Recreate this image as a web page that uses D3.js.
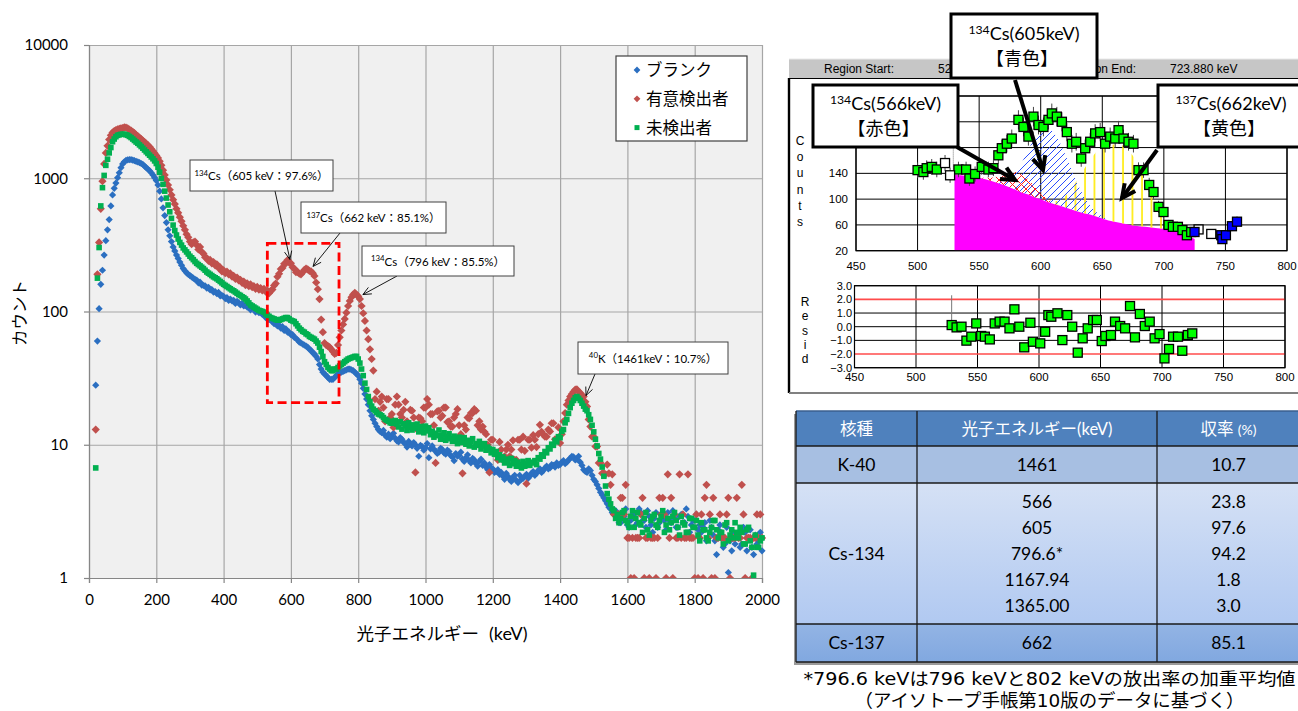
<!DOCTYPE html>
<html>
<head>
<meta charset="utf-8">
<script src="https://cdn.jsdelivr.net/npm/d3@7"></script>
<style>
  body { margin: 0; background: #fff; }
  svg { display: block; }
  text { font-family: Lato, "Noto Sans CJK JP", sans-serif; }
  .ms { font-family: "Liberation Sans", Arial, sans-serif; }
  .note { font-family: "DejaVu Sans", "Noto Sans CJK JP", sans-serif; }
</style>
</head>
<body>
<svg id="fig" width="1298" height="711"></svg>
<script>
// ---------------- spectrum data (mean counts per 5 keV channel group) ----------------
const energyStart = 20;   // keV of the first channel group
const energyStep = 5;     // keV per channel group

const blankCounts = [
  28, 60, 105, 160, 204, 265, 340, 410, 490, 620, 750, 840, 920, 1010, 1100, 1200, 1280, 1330, 1360, 1375,
  1380, 1378, 1370, 1355, 1340, 1325, 1310, 1290, 1270, 1235, 1200, 1170, 1140, 1100, 1060, 1010, 960, 890, 800, 700,
  600, 525, 465, 410, 370, 335, 305, 285, 265, 250, 235, 222, 210, 202, 195, 190, 186, 182, 178, 174,
  172, 164, 166, 158, 157, 156, 150, 152, 145, 146, 140, 141, 136, 139, 131, 132, 130, 125, 127, 121,
  124, 120, 121, 115, 119, 116, 112, 115, 110, 111, 108, 109, 103, 106, 104, 99, 103, 98, 99, 95,
  97, 90, 93, 87, 86, 84, 81, 83, 78, 79, 75, 77, 72, 74, 70, 70, 67, 67, 64, 63,
  61, 59, 58, 57, 56, 55, 54, 52, 51, 49, 48, 46, 44, 40, 37, 35, 34, 33, 32, 31,
  31, 31, 32, 33, 34, 34.5, 35, 35.5, 36, 36.5, 37, 37, 36.5, 36, 35, 34, 33, 31, 29, 26.5,
  24, 22, 20, 18, 16.5, 15.5, 14.5, 13.7, 13, 12.6, 12.3, 12.8, 11.8, 11.4, 12, 11.1, 11.5, 12.2, 11.2, 10.7,
  10.5, 11.3, 11, 10.4, 10.2, 9.6, 10.6, 10.1, 9.8, 10.4, 10, 9.4, 8.2, 9.9, 9.7, 9.1, 9.5, 10.2, 8, 9.3,
  9.8, 9.2, 9, 8.6, 8.8, 9.4, 9.2, 8.7, 8.5, 9.1, 8.9, 8.3, 8.1, 7.6, 8.6, 8.2, 8.3, 8.8, 7.8, 7.5,
  8, 8.4, 7.6, 7.3, 7.9, 7.7, 7.2, 6.9, 7.5, 7.8, 7, 7.3, 6.8, 6.5, 7.1, 6.7, 6.6, 6.2, 6.3, 6.5,
  6, 6.2, 5.8, 5.5, 6.1, 5.8, 5.5, 5.3, 5.7, 5.9, 5.4, 5.2, 5.9, 5.5, 5.6, 5.8, 6, 5.6, 5.8, 6.1,
  6.3, 5.9, 6.1, 6.4, 6.6, 6.2, 6.4, 6.7, 6.9, 6.6, 6.7, 7.1, 7, 6.8, 7.3, 7, 7.1, 7.4, 7.6, 7.2,
  7.4, 7.7, 7.9, 8.2, 8.1, 7.7, 7.8, 8.2, 7.4, 7, 6.5, 6.3, 6.2, 6.6, 6.4, 5.9, 5.5, 5.3, 5, 4.7,
  4.4, 4.2, 4, 3.8, 3.6, 3.4, 3.3, 3.1, 3, 3.2, 2.8, 2.6, 2.6, 2.9, 2.9, 3.3, 2.5, 2.4, 2.7, 3.0,
  2.9, 2.5, 2.6, 3.3, 3.1, 2.7, 2.7, 2.4, 3.2, 2.9, 2.5, 2.2, 2.8, 3.1, 2.4, 2.6, 3, 2.8, 2.7, 2.3,
  3.1, 2.7, 2.6, 3.2, 2.8, 2.4, 2.4, 2.9, 3, 2.6, 2.6, 3.3, 2.9, 2.2, 2.5, 2.7, 2.7, 3, 2.3, 2.5,
  2.2, 2.4, 2.6, 1.9, 2.0, 2.7, 2.4, 2.1, 1.9, 1.5, 2.3, 2.5, 2.1, 1.7, 1.8, 2.4, 1.1, 1.9, 1.6, 2.2,
  1.8, 2.1, 2.0, 1.7, 1.8, 2.4, 2.2, 1.6, 2.0, 2.3, 1.7, 1.5, 2.1, 1.8, 1.9, 2.2, 1.6
];

const positiveCounts = [
  13, 190, 330, 590, 950, 1280, 1550, 1750, 1950, 2100, 2200, 2260, 2300, 2330, 2350, 2370, 2380, 2410, 2400, 2370,
  2320, 2280, 2230, 2180, 2120, 2070, 2020, 1970, 1920, 1870, 1820, 1770, 1720, 1660, 1600, 1540, 1480, 1420, 1340, 1250,
  1150, 1060, 970, 890, 820, 750, 690, 640, 590, 550, 510, 475, 440, 410, 380, 360, 335, 320, 330, 335,
  315, 292, 305, 280, 272, 255, 252, 240, 244, 230, 235, 222, 226, 212, 214, 200, 204, 194, 199, 190,
  193, 183, 185, 176, 180, 171, 173, 164, 168, 158, 163, 155, 160, 152, 155, 148, 153, 146, 150, 144,
  148, 141, 144, 137, 143, 146, 157, 162, 182, 192, 208, 212, 228, 230, 243, 233, 230, 215, 210, 197,
  198, 192, 190, 197, 205, 210, 207, 202, 200, 194, 185, 165, 147, 124, 87, 70, 58, 56, 55, 54,
  52, 50, 48, 49, 56, 64, 72, 80, 88, 98, 110, 120, 128, 134, 138, 134, 130, 124, 110, 97,
  85, 72, 62, 52, 44, 36, 22, 25, 18, 21, 23, 19, 15, 22, 22, 16, 17, 13.5, 20, 23,
  20, 17, 16, 18.3, 21, 15, 14, 18.3, 18, 16, 6.2, 13, 16, 15.8, 15, 19, 19, 22, 20, 17,
  17, 14, 7.3, 17.8, 18, 16, 16.5, 19, 19, 14.8, 15, 13.7, 13.7, 16, 17, 18.5, 14, 12, 6.1, 14,
  13, 16, 15.8, 17.3, 17.3, 18.5, 18, 14, 15, 13, 13.7, 12.5, 12, 10, 6.2, 10.9, 10.9, 8.6, 8.6, 7.7,
  10.5, 9.2, 7.7, 8.2, 9.2, 10, 8.2, 9.2, 10.8, 7.7, 7.7, 10.9, 10.9, 9.2, 11.5, 9, 5.1, 10.9, 10.9, 9.5,
  11.8, 10.9, 9.6, 12, 14.1, 12.5, 12, 11.5, 11.5, 13, 12.6, 14.5, 14.5, 11, 11, 13.5, 10.3, 12, 15, 17.3,
  20, 21.5, 23, 24, 25, 25.9, 26, 25, 24.5, 23, 23, 21, 19.4, 15.5, 13.7, 11.5, 11.5, 9.7, 9.7, 7.3,
  7.3, 6.1, 6.1, 6, 7.1, 6.1, 5, 6, 3, 3, 3, 3, 4, 4, 3, 5, 2, 2, 1, 2,
  1, 2, 2, 2, 3, 4, 1, 2, 2, 1, 2, 2, 2, 1, 2, 4, 3, 4, 3, 1,
  6, 2, 4, 1, 3, 2, 2, 6, 2, 3, 2, 2, 6, 2, 2, 2, 1, 3, 1, 2,
  3, 1, 4, 5, 2, 3, 1, 4, 1, 2, 2, 3, 2, 2, 2, 3, 4, 1, 2, 2,
  2, 4, 2, 2, 5, 3, 1, 2, 2, 2, 1, 2, 2, 3, 2, 3, 2
];

const undetectedCounts = [
  6.7, 178, 302, 620, 850, 1050, 1250, 1390, 1550, 1700, 1880, 1970, 2050, 2100, 2120, 2135, 2140, 2140, 2120, 2100,
  2060, 2020, 1970, 1920, 1870, 1830, 1780, 1730, 1680, 1630, 1580, 1535, 1490, 1445, 1400, 1350, 1290, 1210, 1110, 1000,
  900, 800, 710, 630, 560, 500, 445, 405, 375, 350, 330, 315, 300, 290, 280, 270, 260, 253, 245, 237,
  230, 225, 220, 215, 210, 204, 198, 194, 190, 186, 182, 179, 176, 172, 168, 164, 160, 157, 154, 151,
  148, 145, 143, 140, 137, 134, 132, 129, 127, 124, 120, 116, 112, 110, 108, 106, 104, 102, 101, 100,
  99, 96, 94, 92, 90, 89, 88, 87, 86, 86, 87, 88, 89, 90, 90, 88, 86, 85, 84, 81,
  78, 75, 73, 71, 70, 68, 67, 65, 64, 63, 62, 60, 58, 54, 50, 46, 42, 40, 38, 37,
  36, 36, 37, 37, 38, 39, 40, 41, 42, 43, 44, 44.5, 45, 45.5, 46, 46, 44, 41, 37, 33,
  29, 26, 23, 21, 19.5, 18.5, 18, 17.5, 17, 16.8, 16.5, 16, 15.5, 15.3, 15, 14.6, 14.5, 15, 15.2, 14.3,
  13.6, 14.9, 13.1, 14.4, 13.9, 12.8, 14.6, 13.5, 12.9, 14.1, 13.3, 14.3, 12.5, 13.7, 13.1, 12.3, 13.8, 12.7, 13.4, 11.9,
  12.6, 11.4, 12.2, 11.7, 12.9, 11, 11.8, 12.3, 10.8, 11.5, 12.1, 11.1, 10.6, 11.6, 11.2, 10.2, 11.4, 10.9, 10.4, 11.3,
  10.1, 10.8, 9.8, 10.5, 11.1, 9.6, 10.2, 9.9, 10.6, 9.3, 9.8, 10.2, 9.1, 9.6, 9.3, 8.7, 9.2, 8.5, 8.9, 8,
  8.4, 7.7, 8.1, 7.3, 7.8, 7.5, 7, 7.9, 7.2, 7.6, 6.9, 7.4, 7.1, 6.7, 7.5, 6.9, 7.2, 7.6, 7, 7.4,
  7.3, 7.6, 7.1, 8, 7.8, 8.4, 8.2, 8.9, 8.7, 9.5, 9.3, 10.1, 9.9, 10.8, 10.5, 11.5, 11.3, 12.6, 13, 14.6,
  15.5, 17.2, 19, 20.5, 21.5, 22.5, 23, 22.3, 21.5, 20.5, 19.5, 18.5, 18, 16.8, 15.5, 14, 12.5, 11, 9.8, 8.6,
  7.8, 6.8, 5.8, 4.9, 4.3, 3.9, 3.6, 3.3, 3.2, 2.8, 3, 2.6, 2.8, 3.1, 3.2, 2.7, 2.6, 2.4, 2.9, 3.2,
  2.4, 2.8, 3.1, 2.6, 2.5, 2.2, 2.8, 3.1, 2.3, 2.1, 2.7, 2.9, 3, 2.5, 2.4, 2.7, 2.9, 3.2, 2.2, 2.5,
  2.8, 2.3, 2.6, 2.9, 3.1, 2.7, 2.4, 2.1, 2.9, 2.6, 2.5, 2.2, 2.2, 2.8, 2.8, 2.4, 2.4, 2.7, 2.1, 1.9,
  2.6, 2.3, 2.3, 2.0, 1.9, 2.2, 2.4, 2.7, 2.7, 2.3, 2.0, 2.2, 2.2, 1.8, 2.5, 2.6, 1.9, 2.1, 2.3, 2.0,
  2.6, 2.2, 2.0, 2.4, 2.2, 1.8, 1.8, 2.3, 2.4, 1.9, 1.7, 1.05, 2.1, 1.7, 1.7, 1.9, 2.0
];

const seriesNames = ["ブランク", "有意検出者", "未検出者"];
const energyTicks = [0, 200, 400, 600, 800, 1000, 1200, 1400, 1600, 1800, 2000];
const countTicks = [1, 10, 100, 1000, 10000];

// peak labels: isotope mass number, rest of label, arrow tip (keV, counts)
const peakIso = ["134", "137", "134", "40"];
const peakText = ["Cs（605 keV：97.6%）", "Cs（662 keV：85.1%）", "Cs（796 keV：85.5%）", "K（1461keV：10.7%）"];
const peakTipEnergy = [597, 666, 814, 1477];
const peakTipCounts = [246, 218, 134, 23.4];

// region of interest highlighted on the spectrum (keV, counts)
const roiEnergy = [530, 743];
const roiCounts = [20.7, 325];

// ---------------- peak-fit data (region 529–724 keV) ----------------
const fitEnergy = [500, 504.7, 507.4, 511.5, 515.6, 533.2, 539.4, 542.1, 546.7, 552.1,
  557.5, 561.6, 565.6, 568.4, 572.5, 576.5, 581.9, 586, 590, 594.1,
  598.2, 602.2, 606.3, 609, 613.1, 617.2, 621.2, 625.3, 628.8, 632.9,
  636.1, 640.2, 644.2, 648.3, 652.3, 656.4, 660.5, 663.2, 667.2, 671.3,
  675.3, 679.4, 683.5, 688.1, 691.6, 695.7, 699.7, 703.8, 707.3, 711.4,
  715.1, 718.7, 722.2];
const fitCounts = [145, 142, 148, 150, 146, 146, 146, 132, 139, 150,
  146, 148, 168, 179, 186, 194, 223, 212, 197, 228,
  215, 212, 223, 233, 228, 220, 204, 186, 189, 163,
  179, 189, 202, 204, 186, 197, 194, 207, 194, 189,
  186, 145, 145, 122, 111, 88, 80, 60, 57, 57,
  52, 44, 49];
const excludedEnergy = [522.3, 526.4, 728.2, 738.5];
const excludedCounts = [156, 137, 53, 46];
const outsideEnergy = [724.9, 746.6, 747.5, 750.4, 755.3, 759.4];
const outsideCounts = [49, 44, 38, 44, 58, 65];

// model components on a 5 keV grid from 530 keV
const gridStart = 530, gridStep = 5;
const continuumCounts = [138, 137, 136, 135, 133, 131, 128, 125, 122, 118,
  114, 110, 107, 103, 100, 96, 93, 90, 87, 84,
  81, 78, 76, 73, 70, 67, 65, 63, 61, 59,
  58, 57, 56, 55, 54, 53, 50, 47, 43, 38];
const peak566 = [0, 0, 0, 0, 0, 2, 5, 10, 17, 24,
  28, 28, 24, 17, 10, 5, 2, 0, 0, 0,
  0, 0, 0, 0, 0, 0, 0, 0, 0, 0,
  0, 0, 0, 0, 0, 0, 0, 0, 0, 0];
const peak605 = [0, 0, 0, 0, 0, 0, 0, 0, 6, 14,
  28, 48, 70, 92, 108, 115, 112, 100, 82, 62,
  42, 26, 14, 7, 3, 0, 0, 0, 0, 0,
  0, 0, 0, 0, 0, 0, 0, 0, 0, 0];
const peak662 = [0, 0, 0, 0, 0, 0, 0, 0, 0, 0,
  0, 0, 0, 0, 0, 0, 3, 8, 18, 32,
  50, 68, 85, 100, 110, 116, 120, 122, 118, 108,
  95, 78, 58, 38, 22, 10, 4, 0, 0, 0];

const residEnergy = [529, 533, 537, 541, 545, 549, 553, 556, 560, 564,
  568, 572, 576, 580, 584, 588, 593, 595, 601, 605,
  607.6, 610, 615, 619, 623, 627, 631.5, 635.5, 639.6, 644,
  647, 651, 654, 658.5, 661.8, 666, 670, 674, 678, 682,
  686, 690, 694, 698, 702, 705.7, 709, 713, 716.5, 721, 724.6];
const residValues = [0.12, -0.05, 0.0, -1.02, -0.73, 0.24, -0.68, -0.73, -0.93, 0.24,
  0.37, 0.37, -0.12, 1.27, 0.0, -1.51, 0.29, -1.1, -1.22, -0.37,
  0.85, 0.73, 0.98, -0.98, 0.85, 0.0, -1.9, -0.85, -0.12, 0.49,
  0.49, -1.05, -0.68, -0.61, 0.37, 0.05, -0.12, 1.51, -0.78, 0.93,
  0.05, 0.37, -0.85, -0.54, -2.32, -1.63, -0.73, -0.73, -1.76, -0.61, -0.49];

const fitXTicks = [450, 500, 550, 600, 650, 700, 750, 800];
const fitYGrid = [20, 60, 100, 140, 180, 220, 260];
const fitYLabels = [20, 60, 100, 140];
const residTicks = [-3, -2, -1, 0, 1, 2, 3];

// ---------------- nuclide table ----------------
const tableHeader = ["核種", "光子エネルギー", "収率 "];
const nuclides = ["K-40", "Cs-134", "Cs-137"];
const lineEnergies = [["1461"], ["566", "605", "796.6*", "1167.94", "1365.00"], ["662"]];
const lineYields = [["10.7"], ["23.8", "97.6", "94.2", "1.8", "3.0"], ["85.1"]];
const footnote = ["*796.6 keVは796 keVと802 keVの放出率の加重平均値", "（アイソトープ手帳第10版のデータに基づく）"];

// =====================================================================
const svg = d3.select("#fig");
const defs = svg.append("defs");

// ---------- arrow helper ----------
function arrow(g, x1, y1, x2, y2, width, head, ang) {
  g.append("line").attr("x1", x1).attr("y1", y1).attr("x2", x2).attr("y2", y2)
    .attr("stroke", "#000").attr("stroke-width", width);
  const a = Math.atan2(y2 - y1, x2 - x1);
  const p = d3.path();
  p.moveTo(x2 - head * Math.cos(a - ang), y2 - head * Math.sin(a - ang));
  p.lineTo(x2, y2);
  p.lineTo(x2 - head * Math.cos(a + ang), y2 - head * Math.sin(a + ang));
  g.append("path").attr("d", p.toString()).attr("fill", "none")
    .attr("stroke", "#000").attr("stroke-width", width).attr("stroke-linejoin", "miter");
}
// text with a leading superscript mass number
function isoText(g, x, y, iso, rest, size, anchor) {
  const t = g.append("text").attr("x", x).attr("y", y).attr("font-size", size)
    .attr("text-anchor", anchor || "middle").attr("fill", "#000");
  t.append("tspan").attr("font-size", size * 0.68).attr("dy", -size * 0.36).text(iso);
  t.append("tspan").attr("dy", size * 0.36).text(rest);
  return t;
}

// ================= main spectrum =================
const M = { left: 89, right: 762, top: 45, bottom: 578 };
const x = d3.scaleLinear().domain([0, 2000]).range([M.left, M.right]);
const y = d3.scaleLog().domain([1, 10000]).range([M.bottom, M.top]);
const main = svg.append("g");

main.append("rect").attr("x", M.left).attr("y", M.top)
  .attr("width", M.right - M.left).attr("height", M.bottom - M.top).attr("fill", "#f0f0f0");

const gridX = main.append("g").attr("transform", `translate(0,${M.bottom})`)
  .call(d3.axisBottom(x).tickValues(energyTicks).tickSize(-(M.bottom - M.top)).tickFormat(""));
gridX.select(".domain").remove();
gridX.selectAll("line").attr("stroke", "#a6a6a6").attr("stroke-width", 1.2);
const gridY = main.append("g").attr("transform", `translate(${M.left},0)`)
  .call(d3.axisLeft(y).tickValues(countTicks).tickSize(-(M.right - M.left)).tickFormat(""));
gridY.select(".domain").remove();
gridY.selectAll("line").attr("stroke", "#a6a6a6").attr("stroke-width", 1.2);

const axL = main.append("g").attr("transform", `translate(${M.left},0)`)
  .call(d3.axisLeft(y).tickValues(countTicks).tickSize(5).tickPadding(16).tickFormat(d3.format("d")));
const axB = main.append("g").attr("transform", `translate(0,${M.bottom})`)
  .call(d3.axisBottom(x).tickValues(energyTicks).tickSize(5).tickPadding(11).tickFormat(d3.format("d")));
[axL, axB].forEach(a => {
  a.select(".domain").attr("stroke", "#868686").attr("stroke-width", 1.2);
  a.selectAll(".tick line").attr("stroke", "#868686").attr("stroke-width", 1.2);
  a.selectAll("text").attr("font-size", 15).attr("fill", "#000")
    .attr("font-family", "Lato, sans-serif");
});

main.append("text").attr("transform", "translate(26,313) rotate(-90)")
  .attr("text-anchor", "middle").attr("font-size", 16.5).text("カウント");
const xt = main.append("text").attr("x", 442).attr("y", 640).attr("text-anchor", "middle").attr("font-size", 17.5);
xt.append("tspan").text("光子エネルギー");
xt.append("tspan").attr("font-family", "Lato, sans-serif").attr("font-size", 18).attr("dx", 10).text("(keV)");

main.append("clipPath").attr("id", "plotClip").append("rect")
  .attr("x", M.left).attr("y", M.top - 5).attr("width", M.right - M.left + 5).attr("height", M.bottom - M.top + 5);

const diamond = r => `M0,${-r}L${r},0L0,${r}L${-r},0Z`;
const square = s => `M${-s / 2},${-s / 2}h${s}v${s}h${-s}Z`;
const series = [
  { vals: blankCounts, color: "#2b6fc1", path: diamond(3.6) },
  { vals: positiveCounts, color: "#c0504d", path: diamond(4.1) },
  { vals: undetectedCounts, color: "#00b050", path: square(5.6) }
];
const marks = main.append("g").attr("clip-path", "url(#plotClip)");
series.forEach(s => {
  marks.append("g").selectAll("path")
    .data(s.vals.map((c, i) => ({ e: energyStart + i * energyStep, c })))
    .join("path")
    .attr("d", s.path)
    .attr("transform", d => `translate(${x(d.e)},${y(d.c)})`)
    .attr("fill", s.color);
});

// highlighted region
main.append("rect")
  .attr("x", x(roiEnergy[0])).attr("y", y(roiCounts[1]))
  .attr("width", x(roiEnergy[1]) - x(roiEnergy[0])).attr("height", y(roiCounts[0]) - y(roiCounts[1]))
  .attr("fill", "none").attr("stroke", "#ff0000").attr("stroke-width", 2.8)
  .attr("stroke-dasharray", "9,4.5");

// peak call-outs: box [x, y, w, h] and arrow start point
const peakBox = [[190, 160, 143, 31], [301, 202, 145, 31], [362, 246, 152, 30], [578, 342, 150, 32]];
const peakFoot = [[275, 191], [340, 233], [397, 276], [595, 374]];
const callouts = main.append("g");
peakText.forEach((txt, i) => {
  const [bx, by, bw, bh] = peakBox[i];
  arrow(callouts, peakFoot[i][0], peakFoot[i][1], x(peakTipEnergy[i]), y(peakTipCounts[i]), 0.9, 9, 0.42);
  callouts.append("rect").attr("x", bx).attr("y", by).attr("width", bw).attr("height", bh)
    .attr("fill", "#fff").attr("stroke", "#404040").attr("stroke-width", 1);
  isoText(callouts, bx + bw / 2, by + bh / 2 + 4.5, peakIso[i], txt, 11.5);
});

// legend
const leg = main.append("g");
leg.append("rect").attr("x", 616).attr("y", 56).attr("width", 131).attr("height", 85)
  .attr("fill", "#fff").attr("stroke", "#404040").attr("stroke-width", 1.2);
seriesNames.forEach((n, i) => {
  const ly = 70 + i * 28.8;
  leg.append("path").attr("d", i === 2 ? square(5) : diamond(3.4))
    .attr("transform", `translate(637,${ly})`).attr("fill", series[i].color);
  leg.append("text").attr("x", 646).attr("y", ly + 6).attr("font-size", 16.5).text(n);
});

// ================= peak-fit panel =================
const fit = svg.append("g");
const fx = d3.scaleLinear().domain([450, 800]).range([856, 1287]);
const fy = d3.scaleLinear().domain([20, 260]).range([250.7, 96]);
const rx = d3.scaleLinear().domain([450, 800]).range([854.5, 1285]);
const ry = d3.scaleLinear().domain([-3, 3]).range([367.7, 285.7]);

fit.append("rect").attr("x", 789).attr("y", 59).attr("width", 520).attr("height", 335).attr("fill", "#fff");
fit.append("rect").attr("x", 789).attr("y", 59).attr("width", 520).attr("height", 19).attr("fill", "#c6c6c6");
fit.append("line").attr("x1", 789).attr("x2", 1298).attr("y1", 59).attr("y2", 59).attr("stroke", "#e8e8e8");
fit.append("line").attr("x1", 789).attr("x2", 789).attr("y1", 78).attr("y2", 393).attr("stroke", "#000").attr("stroke-width", 2.4);
fit.append("line").attr("x1", 789).attr("x2", 1298).attr("y1", 393).attr("y2", 393).attr("stroke", "#808080").attr("stroke-width", 2);
fit.append("line").attr("x1", 790).attr("x2", 1298).attr("y1", 78.5).attr("y2", 78.5).attr("stroke", "#000").attr("stroke-width", 1);

// header line of the fit window; the centre call-out box sits over part of it
const hdrClip = defs.append("clipPath").attr("id", "hdrClip");
hdrClip.append("rect").attr("x", 789).attr("y", 59).attr("width", 951 - 789).attr("height", 19);
hdrClip.append("rect").attr("x", 1097).attr("y", 59).attr("width", 1298 - 1097).attr("height", 19);
const hdrG = fit.append("g").attr("clip-path", "url(#hdrClip)");
const hdr = [["Region Start:", 824], ["52", 938], ["Region End:", 1070], ["723.880 keV", 1170]];
hdr.forEach(h => hdrG.append("text").attr("class", "ms").attr("x", h[1]).attr("y", 73)
  .attr("font-size", 12).attr("fill", "#000").text(h[0]));

// patterns for the fitted peak components
const pRed = defs.append("pattern").attr("id", "hatchRed").attr("patternUnits", "userSpaceOnUse")
  .attr("width", 9).attr("height", 9);
pRed.append("path").attr("d", "M0,0L9,9M9,0L0,9").attr("stroke", "#ff2020").attr("stroke-width", 1);
const pBlue = defs.append("pattern").attr("id", "hatchBlue").attr("patternUnits", "userSpaceOnUse")
  .attr("width", 7).attr("height", 7);
pBlue.append("path").attr("d", "M0,7L7,0M-1,1L1,-1M6,8L8,6").attr("stroke", "#2a4cff").attr("stroke-width", 1);
const pYel = defs.append("pattern").attr("id", "hatchYellow").attr("patternUnits", "userSpaceOnUse")
  .attr("width", 9.5).attr("height", 10);
pYel.append("line").attr("x1", 2).attr("x2", 2).attr("y1", 0).attr("y2", 10).attr("stroke", "#ffea00").attr("stroke-width", 1.6);

// grid of the counts plot
fit.selectAll(".fgx").data(fitXTicks).join("line")
  .attr("x1", d => fx(d)).attr("x2", d => fx(d)).attr("y1", fy(260)).attr("y2", fy(20))
  .attr("stroke", "#000").attr("stroke-width", 1);
fit.selectAll(".fgy").data(fitYGrid).join("line")
  .attr("x1", fx(450)).attr("x2", fx(800)).attr("y1", d => fy(d)).attr("y2", d => fy(d))
  .attr("stroke", "#000").attr("stroke-width", 1);

const gridE = continuumCounts.map((_, i) => gridStart + i * gridStep);
const contArea = d3.area().x((d, i) => fx(gridE[i])).y0(fy(20)).y1(d => fy(d));
fit.append("path").attr("d", contArea(continuumCounts)).attr("fill", "#ff00ff");
function peakArea(h) {
  return d3.area().x((d, i) => fx(gridE[i]))
    .y0((d, i) => fy(continuumCounts[i])).y1((d, i) => fy(continuumCounts[i] + h[i]))(h);
}
fit.append("path").attr("d", peakArea(peak662)).attr("fill", "url(#hatchYellow)");
fit.append("path").attr("d", peakArea(peak605)).attr("fill", "url(#hatchBlue)");
fit.append("path").attr("d", peakArea(peak566)).attr("fill", "url(#hatchRed)");

// region boundary marker
fit.append("line").attr("x1", fx(529)).attr("x2", fx(529)).attr("y1", fy(135)).attr("y2", fy(182))
  .attr("stroke", "#777").attr("stroke-width", 1).attr("stroke-dasharray", "1,1");

// measured points with counting error bars
const fitPts = fitEnergy.map((e, i) => ({ e, c: fitCounts[i], f: "#00ff00" }))
  .concat(excludedEnergy.map((e, i) => ({ e, c: excludedCounts[i], f: "#ffffff" })))
  .concat(outsideEnergy.map((e, i) => ({ e, c: outsideCounts[i], f: "#0000ff" })));
fit.append("g").selectAll("line").data(fitPts).join("line")
  .attr("x1", d => fx(d.e)).attr("x2", d => fx(d.e))
  .attr("y1", d => fy(d.c - Math.sqrt(d.c))).attr("y2", d => fy(d.c + Math.sqrt(d.c)))
  .attr("stroke", "#444").attr("stroke-width", 1);
fit.append("g").selectAll("rect").data(fitPts).join("rect")
  .attr("x", d => fx(d.e) - 4.5).attr("y", d => fy(d.c) - 4.5).attr("width", 9).attr("height", 9)
  .attr("fill", d => d.f).attr("stroke", "#000").attr("stroke-width", 1.3);

fit.append("rect").attr("x", fx(450)).attr("y", fy(260)).attr("width", fx(800) - fx(450))
  .attr("height", fy(20) - fy(260)).attr("fill", "none").attr("stroke", "#000").attr("stroke-width", 1.2);

fitYLabels.forEach(v => fit.append("text").attr("class", "ms").attr("x", 848).attr("y", fy(v) + 4)
  .attr("text-anchor", "end").attr("font-size", 11.5).text(v));
fitXTicks.forEach(v => fit.append("text").attr("class", "ms").attr("x", fx(v)).attr("y", 270)
  .attr("text-anchor", "middle").attr("font-size", 11.5).text(v));
"Counts".split("").forEach((ch, i) => fit.append("text").attr("class", "ms")
  .attr("x", 800).attr("y", 145 + i * 16.2).attr("text-anchor", "middle").attr("font-size", 12).text(ch));

// residual plot
fit.selectAll(".rgx").data(fitXTicks).join("line")
  .attr("x1", d => rx(d)).attr("x2", d => rx(d)).attr("y1", ry(3)).attr("y2", ry(-3))
  .attr("stroke", "#000").attr("stroke-width", 1);
fit.selectAll(".rgy").data(residTicks).join("line")
  .attr("x1", rx(450)).attr("x2", rx(800)).attr("y1", d => ry(d)).attr("y2", d => ry(d))
  .attr("stroke", d => Math.abs(d) === 2 ? "#ff4b4b" : "#000")
  .attr("stroke-width", d => Math.abs(d) === 2 ? 1.6 : 1);
fit.append("rect").attr("x", rx(450)).attr("y", ry(3)).attr("width", rx(800) - rx(450))
  .attr("height", ry(-3) - ry(3)).attr("fill", "none").attr("stroke", "#000").attr("stroke-width", 1.2);
fit.append("line").attr("x1", rx(529)).attr("x2", rx(529)).attr("y1", ry(2.3)).attr("y2", ry(0.1))
  .attr("stroke", "#777").attr("stroke-width", 1);
fit.append("g").selectAll("rect").data(residEnergy).join("rect")
  .attr("x", (d) => rx(d) - 4.5).attr("y", (d, i) => ry(residValues[i]) - 4.5)
  .attr("width", 9).attr("height", 9).attr("fill", "#00ff00").attr("stroke", "#000").attr("stroke-width", 1.3);
residTicks.forEach(v => fit.append("text").attr("class", "ms").attr("x", 852).attr("y", ry(v) + 3.8)
  .attr("text-anchor", "end").attr("font-size", 11).text(d3.format(".1f")(v)));
fitXTicks.forEach(v => fit.append("text").attr("class", "ms").attr("x", rx(v)).attr("y", 381)
  .attr("text-anchor", "middle").attr("font-size", 11.5).text(v));
"Resid".split("").forEach((ch, i) => fit.append("text").attr("class", "ms")
  .attr("x", 805).attr("y", 306 + i * 14.3).attr("text-anchor", "middle").attr("font-size", 12).text(ch));

// component call-outs
const compIso = ["134", "134", "137"];
const compText = ["Cs(605keV)", "Cs(566keV)", "Cs(662keV)"];
const compColour = ["【青色】", "【赤色】", "【黄色】"];
const compBox = [[951, 14, 146, 64], [813, 85, 145, 62], [1158, 85, 146, 62]];
const compArrow = [[1015, 80, 1043, 170], [957, 147, 1015, 180], [1157, 150, 1122, 198]];
compText.forEach((t, i) => {
  const [bx, by, bw, bh] = compBox[i];
  const a = compArrow[i];
  arrow(fit, a[0], a[1], a[2], a[3], 4, 15, 0.45);
  fit.append("rect").attr("x", bx).attr("y", by).attr("width", bw).attr("height", bh)
    .attr("fill", "#fff").attr("stroke", "#000").attr("stroke-width", 3);
  isoText(fit, bx + bw / 2, by + bh / 2 - 6, compIso[i], t, 18);
  fit.append("text").attr("x", bx + bw / 2 - 2).attr("y", by + bh / 2 + 19).attr("text-anchor", "middle")
    .attr("font-size", 18).text(compColour[i]);
});

// ================= nuclide table =================
const tab = svg.append("g");
const colX = [796, 917, 1157, 1300];
const rowY = [411, 446, 483, 624, 662];
const gTop = defs.append("linearGradient").attr("id", "rowMid").attr("x1", 0).attr("x2", 0).attr("y1", 0).attr("y2", 1);
gTop.append("stop").attr("offset", "0").attr("stop-color", "#d5e1f5");
gTop.append("stop").attr("offset", "1").attr("stop-color", "#b1c9f1");
const gBot = defs.append("linearGradient").attr("id", "rowBot").attr("x1", 0).attr("x2", 0).attr("y1", 0).attr("y2", 1);
gBot.append("stop").attr("offset", "0").attr("stop-color", "#93b4e4");
gBot.append("stop").attr("offset", "1").attr("stop-color", "#81a8e0");
const rowFill = ["#4f81bd", "#a7bfe2", "url(#rowMid)", "url(#rowBot)"];

tab.append("rect").attr("x", colX[0] - 2).attr("y", rowY[0] + 3).attr("width", colX[3] - colX[0])
  .attr("height", rowY[4] - rowY[0]).attr("fill", "#9a9a9a");
rowFill.forEach((f, r) => tab.append("rect").attr("x", colX[0]).attr("y", rowY[r])
  .attr("width", colX[3] - colX[0]).attr("height", rowY[r + 1] - rowY[r]).attr("fill", f));
rowY.forEach((yy, r) => tab.append("line").attr("x1", colX[0]).attr("x2", colX[3]).attr("y1", yy).attr("y2", yy)
  .attr("stroke", r === 0 ? "#3a5f8f" : "#1a1a1a").attr("stroke-width", r === 1 ? 1.6 : 1.3));
colX.slice(0, 3).forEach(xx => tab.append("line").attr("x1", xx).attr("x2", xx).attr("y1", rowY[0]).attr("y2", rowY[4])
  .attr("stroke", "#1a1a1a").attr("stroke-width", 1.3));

const colMid = [0, 1, 2].map(c => (colX[c] + colX[c + 1]) / 2);
const hy = (rowY[0] + rowY[1]) / 2 + 6;
tab.append("text").attr("x", colMid[0]).attr("y", hy).attr("text-anchor", "middle").attr("font-size", 16.5)
  .attr("fill", "#fff").text(tableHeader[0]);
const h2 = tab.append("text").attr("x", colMid[1]).attr("y", hy).attr("text-anchor", "middle").attr("font-size", 16.5).attr("fill", "#fff");
h2.append("tspan").text(tableHeader[1]);
h2.append("tspan").attr("font-family", "Lato, sans-serif").text("(keV)");
const h3 = tab.append("text").attr("x", colMid[2]).attr("y", hy).attr("text-anchor", "middle").attr("font-size", 16.5).attr("fill", "#fff");
h3.append("tspan").text(tableHeader[2]);
h3.append("tspan").attr("font-family", "Lato, sans-serif").attr("font-size", 14).text("(%)");

nuclides.forEach((n, r) => {
  const top = rowY[r + 1], bot = rowY[r + 2];
  const mid = (top + bot) / 2;
  tab.append("text").attr("x", colMid[0]).attr("y", mid + 6).attr("text-anchor", "middle")
    .attr("font-size", 17.5).attr("font-family", "Lato, sans-serif").text(n);
  const k = lineEnergies[r].length;
  const step = 26;
  lineEnergies[r].forEach((v, j) => {
    const ly = mid + (j - (k - 1) / 2) * step + 6;
    tab.append("text").attr("x", colMid[1]).attr("y", ly).attr("text-anchor", "middle")
      .attr("font-size", 17.5).attr("font-family", "Lato, sans-serif").text(v);
    tab.append("text").attr("x", colMid[2]).attr("y", ly).attr("text-anchor", "middle")
      .attr("font-size", 17.5).attr("font-family", "Lato, sans-serif").text(lineYields[r][j]);
  });
});

const footLen = [492, 390];
const footSize = [17.5, 18];
footnote.forEach((t, i) => tab.append("text").attr("class", "note").attr("x", 1049.5).attr("y", 685 + i * 22)
  .attr("text-anchor", "middle").attr("font-size", footSize[i])
  .attr("textLength", footLen[i]).attr("lengthAdjust", "spacingAndGlyphs").text(t));
</script>
</body>
</html>
